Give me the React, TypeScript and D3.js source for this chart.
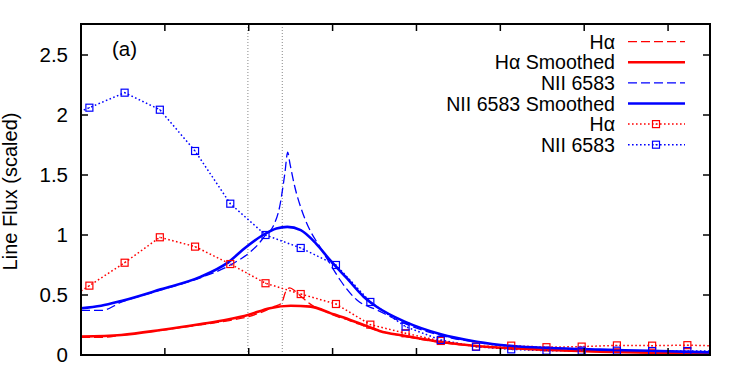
import React from 'react';
import * as d3 from 'd3';

// binned points (first and last lie outside the frame, only the dotted line reaches them)
const binX = [-0.32, 0.1, 0.52, 0.94, 1.36, 1.78, 2.2, 2.62, 3.04, 3.45, 3.87, 4.29, 4.71, 5.13, 5.55, 5.97, 6.39, 6.81, 7.23, 7.65];
const haBinned = [0.39, 0.578, 0.769, 0.981, 0.903, 0.758, 0.598, 0.508, 0.425, 0.253, 0.181, 0.117, 0.07, 0.078, 0.065, 0.07, 0.08, 0.078, 0.082, 0.075];
const niiBinned = [1.94, 2.061, 2.186, 2.044, 1.7, 1.261, 1.0, 0.892, 0.75, 0.442, 0.236, 0.125, 0.069, 0.047, 0.036, 0.036, 0.036, 0.033, 0.033, 0.033];

// raw and smoothed profiles [x, flux]
const haRaw: [number, number][] = [
  [0, 0.147], [0.25, 0.147], [0.48, 0.165], [0.95, 0.205], [1.43, 0.252], [1.75, 0.285], [2.0, 0.32],
  [2.2, 0.37], [2.29, 0.4], [2.39, 0.43], [2.44, 0.528], [2.49, 0.56], [2.56, 0.528], [2.65, 0.472],
  [2.77, 0.408], [2.87, 0.38], [2.98, 0.34], [3.21, 0.285], [3.45, 0.222], [3.86, 0.155], [4.28, 0.105],
  [4.72, 0.072], [5.15, 0.053], [5.59, 0.04], [6.19, 0.027], [6.8, 0.019], [7.5, 0.013],
];
const haSmooth: [number, number][] = [
  [0, 0.153], [0.48, 0.167], [0.95, 0.208], [1.43, 0.258], [1.75, 0.295], [2.0, 0.335], [2.25, 0.39],
  [2.5, 0.411], [2.74, 0.403], [2.98, 0.347], [3.21, 0.292], [3.45, 0.23], [3.56, 0.2], [3.86, 0.161],
  [4.28, 0.111], [4.72, 0.075], [5.15, 0.056], [5.59, 0.042], [6.19, 0.028], [6.8, 0.02], [7.5, 0.014],
];
const niiRaw: [number, number][] = [
  [0, 0.372], [0.25, 0.372], [0.48, 0.44], [0.95, 0.54], [1.43, 0.645], [1.78, 0.75], [2.02, 0.86],
  [2.11, 0.92], [2.19, 0.99], [2.29, 1.07], [2.37, 1.24], [2.43, 1.51], [2.465, 1.69], [2.49, 1.6],
  [2.55, 1.4], [2.63, 1.21], [2.73, 1.04], [2.85, 0.9], [2.97, 0.76], [3.09, 0.625], [3.29, 0.458],
  [3.53, 0.375], [3.87, 0.26], [4.28, 0.165], [4.72, 0.105], [5.15, 0.072], [5.59, 0.055],
  [6.19, 0.043], [6.78, 0.033], [7.5, 0.02],
];
const niiSmooth: [number, number][] = [
  [0, 0.389], [0.24, 0.41], [0.48, 0.45], [0.95, 0.547], [1.43, 0.653], [1.75, 0.77], [1.97, 0.9],
  [2.17, 1.0], [2.33, 1.055], [2.46, 1.068], [2.62, 1.04], [2.8, 0.93], [2.97, 0.79], [3.17, 0.64],
  [3.37, 0.486], [3.53, 0.4], [3.86, 0.278], [4.28, 0.175], [4.72, 0.111], [5.15, 0.075],
  [5.59, 0.058], [6.19, 0.045], [6.78, 0.035], [7.5, 0.022],
];

const yTicks = [0, 0.5, 1, 1.5, 2, 2.5];
const xTicks = [1, 2, 3, 4, 5, 6, 7];
const markLines = [1.99, 2.4];

const legendItems = [
  { label: 'Hα', color: '#ff0000', kind: 'dash' },
  { label: 'Hα Smoothed', color: '#ff0000', kind: 'solid' },
  { label: 'NII 6583', color: '#0000ff', kind: 'dash' },
  { label: 'NII 6583 Smoothed', color: '#0000ff', kind: 'solid' },
  { label: 'Hα', color: '#ff0000', kind: 'dot' },
  { label: 'NII 6583', color: '#0000ff', kind: 'dot' },
];

const W = 747, H = 366;
const L = 81, R = 710, T = 24, B = 355;
const font = '"Liberation Sans", Arial, Helvetica, sans-serif';

function Square({ cx, cy, color }: { cx: number; cy: number; color: string }) {
  return (
    <g>
      <rect x={cx - 3.5} y={cy - 3.5} width={7} height={7} fill="none" stroke={color} strokeWidth={1.2} />
      <rect x={cx - 0.5} y={cy - 0.5} width={1} height={1} fill={color} />
    </g>
  );
}

export default function App() {
  const x = d3.scaleLinear().domain([0, 7.5]).range([L, R]);
  const y = d3.scaleLinear().domain([0, (B - T) / 120]).range([B, T]);

  const line = d3.line<[number, number]>()
    .x((d) => x(d[0]))
    .y((d) => y(d[1]))
    .curve(d3.curveMonotoneX);
  const dotted = d3.line<number>()
    .x((_, i) => x(binX[i]))
    .y((d) => y(d));

  const styles: Record<string, any> = {
    dash: { strokeWidth: 1.3, strokeDasharray: '9,4' },
    solid: { strokeWidth: 2.6 },
    dot: { strokeWidth: 1.5, strokeDasharray: '1.6,2.4' },
  };

  const inside = (v: number) => v >= 0 && v <= 7.5;

  return (
    <svg width={W} height={H} style={{ position: 'absolute', left: 0, top: 0, background: '#fff' }}
      fontFamily={font}>
      <defs>
        <clipPath id="plot"><rect x={L} y={T} width={R - L} height={B - T} /></clipPath>
      </defs>

      {markLines.map((v) => (
        <line key={v} x1={x(v)} x2={x(v)} y1={T} y2={B} stroke="#888" strokeWidth={1} strokeDasharray="1,2" />
      ))}

      <g clipPath="url(#plot)" fill="none">
        <path d={dotted(haBinned) || ''} stroke="#ff0000" {...styles.dot} />
        <path d={dotted(niiBinned) || ''} stroke="#0000ff" {...styles.dot} />
        <path d={line(haRaw) || ''} stroke="#ff0000" {...styles.dash} />
        <path d={line(niiRaw) || ''} stroke="#0000ff" {...styles.dash} />
        <path d={line(haSmooth) || ''} stroke="#ff0000" {...styles.solid} />
        <path d={line(niiSmooth) || ''} stroke="#0000ff" {...styles.solid} />
      </g>
      {binX.map((v, i) => inside(v) ? <Square key={'h' + i} cx={x(v)} cy={y(haBinned[i])} color="#ff0000" /> : null)}
      {binX.map((v, i) => inside(v) ? <Square key={'n' + i} cx={x(v)} cy={y(niiBinned[i])} color="#0000ff" /> : null)}

      {/* frame and ticks */}
      <rect x={L} y={T} width={R - L} height={B - T} fill="none" stroke="#000" strokeWidth={2} />
      {yTicks.map((t) => (
        <g key={t}>
          <line x1={L} x2={L + 7} y1={y(t)} y2={y(t)} stroke="#000" strokeWidth={1.5} />
          <line x1={R} x2={R - 7} y1={y(t)} y2={y(t)} stroke="#000" strokeWidth={1.5} />
          <text x={68} y={y(t)} dy="0.36em" textAnchor="end" fontSize={20.5}>{t}</text>
        </g>
      ))}
      {xTicks.map((t) => (
        <g key={t}>
          <line x1={x(t)} x2={x(t)} y1={B} y2={B - 7} stroke="#000" strokeWidth={1.5} />
          <line x1={x(t)} x2={x(t)} y1={T} y2={T + 7} stroke="#000" strokeWidth={1.5} />
        </g>
      ))}

      <text transform={`translate(17,${(T + B) / 2 + 2}) rotate(-90)`} textAnchor="middle" fontSize={20}>
        Line Flux (scaled)
      </text>
      <text x={112} y={56} fontSize={20.5}>(a)</text>

      {legendItems.map((it, i) => {
        const ly = 41.7 + i * 20.6;
        return (
          <g key={i}>
            <text x={615} y={ly} dy="0.36em" textAnchor="end" fontSize={19.6}>{it.label}</text>
            <line x1={628} x2={685} y1={ly} y2={ly} stroke={it.color} {...styles[it.kind]} />
            {it.kind === 'dot' ? <Square cx={656} cy={ly} color={it.color} /> : null}
          </g>
        );
      })}
    </svg>
  );
}
